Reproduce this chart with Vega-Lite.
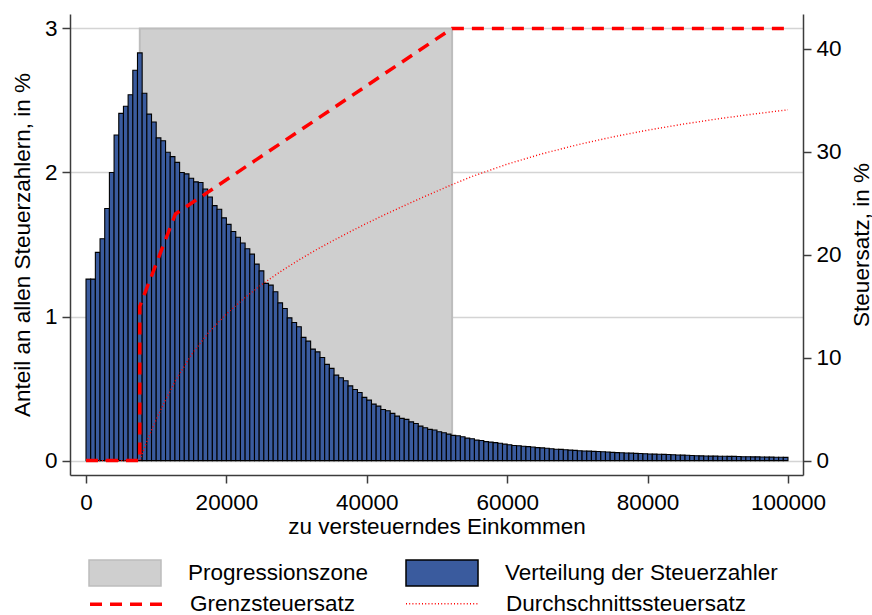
{
  "$schema": "https://vega.github.io/schema/vega-lite/v6.json",
  "width": 733,
  "height": 461,
  "autosize": {"type": "none"},
  "padding": {"left": 70, "top": 14, "right": 69, "bottom": 140},
  "background": "white",
  "config": {
    "font": "Liberation Sans",
    "view": {"stroke": null},
    "axis": {
      "labelFont": "Liberation Sans",
      "titleFont": "Liberation Sans",
      "labelFontSize": 22.5,
      "titleFontSize": 22.5,
      "titleFontWeight": "normal",
      "labelColor": "#000000",
      "titleColor": "#000000",
      "domainColor": "#3c3c3c",
      "domainWidth": 1.5,
      "tickColor": "#3c3c3c",
      "tickWidth": 1.5,
      "tickSize": 8,
      "grid": false,
      "labelFlush": false,
      "labelOverlap": false
    },
    "legend": {
      "title": null,
      "direction": "horizontal",
      "columns": 2,
      "padding": 0,
      "symbolSize": 676,
      "labelFontSize": 22.5,
      "labelFont": "Liberation Sans",
      "labelColor": "#000000",
      "labelLimit": 400,
      "labelOffset": 85,
      "rowPadding": 2
    }
  },
  "datasets": {
    "zone": [{"x": 7664, "x_end": 52151, "oben": 3, "unten": 0}],
    "verteilung": [
      {"x":0,"x_end":667,"s":1.26},{"x":667,"x_end":1333,"s":1.26},{"x":1333,"x_end":2000,"s":1.445},
      {"x":2000,"x_end":2667,"s":1.54},{"x":2667,"x_end":3333,"s":1.75},{"x":3333,"x_end":4000,"s":2.0},
      {"x":4000,"x_end":4667,"s":2.26},{"x":4667,"x_end":5333,"s":2.41},{"x":5333,"x_end":6000,"s":2.46},
      {"x":6000,"x_end":6667,"s":2.54},{"x":6667,"x_end":7333,"s":2.71},{"x":7333,"x_end":8000,"s":2.83},
      {"x":8000,"x_end":8667,"s":2.55},{"x":8667,"x_end":9333,"s":2.405},{"x":9333,"x_end":10000,"s":2.35},
      {"x":10000,"x_end":10667,"s":2.24},{"x":10667,"x_end":11333,"s":2.22},{"x":11333,"x_end":12000,"s":2.14},
      {"x":12000,"x_end":12667,"s":2.11},{"x":12667,"x_end":13333,"s":2.07},{"x":13333,"x_end":14000,"s":2.0},
      {"x":14000,"x_end":14667,"s":1.99},{"x":14667,"x_end":15333,"s":1.96},{"x":15333,"x_end":16000,"s":1.935},
      {"x":16000,"x_end":16667,"s":1.93},{"x":16667,"x_end":17333,"s":1.885},{"x":17333,"x_end":18000,"s":1.83},
      {"x":18000,"x_end":18667,"s":1.77},{"x":18667,"x_end":19333,"s":1.745},{"x":19333,"x_end":20000,"s":1.685},
      {"x":20000,"x_end":20667,"s":1.64},{"x":20667,"x_end":21333,"s":1.59},{"x":21333,"x_end":22000,"s":1.55},
      {"x":22000,"x_end":22667,"s":1.51},{"x":22667,"x_end":23333,"s":1.47},{"x":23333,"x_end":24000,"s":1.433},
      {"x":24000,"x_end":24667,"s":1.364},{"x":24667,"x_end":25333,"s":1.317},{"x":25333,"x_end":26000,"s":1.23},
      {"x":26000,"x_end":26667,"s":1.218},{"x":26667,"x_end":27333,"s":1.172},{"x":27333,"x_end":28000,"s":1.095},
      {"x":28000,"x_end":28667,"s":1.056},{"x":28667,"x_end":29333,"s":0.991},{"x":29333,"x_end":30000,"s":0.959},
      {"x":30000,"x_end":30667,"s":0.929},{"x":30667,"x_end":31333,"s":0.855},{"x":31333,"x_end":32000,"s":0.829},
      {"x":32000,"x_end":32667,"s":0.774},{"x":32667,"x_end":33333,"s":0.755},{"x":33333,"x_end":34000,"s":0.716},
      {"x":34000,"x_end":34667,"s":0.668},{"x":34667,"x_end":35333,"s":0.64},{"x":35333,"x_end":36000,"s":0.593},
      {"x":36000,"x_end":36667,"s":0.575},{"x":36667,"x_end":37333,"s":0.554},{"x":37333,"x_end":38000,"s":0.519},
      {"x":38000,"x_end":38667,"s":0.494},{"x":38667,"x_end":39333,"s":0.473},{"x":39333,"x_end":40000,"s":0.439},
      {"x":40000,"x_end":40667,"s":0.42},{"x":40667,"x_end":41333,"s":0.392},{"x":41333,"x_end":42000,"s":0.378},
      {"x":42000,"x_end":42667,"s":0.355},{"x":42667,"x_end":43333,"s":0.346},{"x":43333,"x_end":44000,"s":0.328},
      {"x":44000,"x_end":44667,"s":0.309},{"x":44667,"x_end":45333,"s":0.293},{"x":45333,"x_end":46000,"s":0.286},
      {"x":46000,"x_end":46667,"s":0.269},{"x":46667,"x_end":47333,"s":0.258},{"x":47333,"x_end":48000,"s":0.239},
      {"x":48000,"x_end":48667,"s":0.228},{"x":48667,"x_end":49333,"s":0.217},{"x":49333,"x_end":50000,"s":0.212},
      {"x":50000,"x_end":50667,"s":0.2},{"x":50667,"x_end":51333,"s":0.193},{"x":51333,"x_end":52000,"s":0.184},
      {"x":52000,"x_end":52667,"s":0.175},{"x":52667,"x_end":53333,"s":0.172},{"x":53333,"x_end":54000,"s":0.165},
      {"x":54000,"x_end":54667,"s":0.156},{"x":54667,"x_end":55333,"s":0.152},{"x":55333,"x_end":56000,"s":0.142},
      {"x":56000,"x_end":56667,"s":0.14},{"x":56667,"x_end":57333,"s":0.132},{"x":57333,"x_end":58000,"s":0.128},
      {"x":58000,"x_end":58667,"s":0.125},{"x":58667,"x_end":59333,"s":0.12},{"x":59333,"x_end":60000,"s":0.114},
      {"x":60000,"x_end":60667,"s":0.11},{"x":60667,"x_end":61333,"s":0.105},{"x":61333,"x_end":62000,"s":0.103},
      {"x":62000,"x_end":62667,"s":0.1},{"x":62667,"x_end":63333,"s":0.097},{"x":63333,"x_end":64000,"s":0.094},
      {"x":64000,"x_end":64667,"s":0.09},{"x":64667,"x_end":65333,"s":0.088},{"x":65333,"x_end":66000,"s":0.086},
      {"x":66000,"x_end":66667,"s":0.082},{"x":66667,"x_end":67333,"s":0.079},{"x":67333,"x_end":68000,"s":0.078},
      {"x":68000,"x_end":68667,"s":0.075},{"x":68667,"x_end":69333,"s":0.073},{"x":69333,"x_end":70000,"s":0.071},
      {"x":70000,"x_end":70667,"s":0.068},{"x":70667,"x_end":71333,"s":0.067},{"x":71333,"x_end":72000,"s":0.066},
      {"x":72000,"x_end":72667,"s":0.064},{"x":72667,"x_end":73333,"s":0.063},{"x":73333,"x_end":74000,"s":0.061},
      {"x":74000,"x_end":74667,"s":0.06},{"x":74667,"x_end":75333,"s":0.057},{"x":75333,"x_end":76000,"s":0.055},
      {"x":76000,"x_end":76667,"s":0.054},{"x":76667,"x_end":77333,"s":0.053},{"x":77333,"x_end":78000,"s":0.052},
      {"x":78000,"x_end":78667,"s":0.05},{"x":78667,"x_end":79333,"s":0.049},{"x":79333,"x_end":80000,"s":0.048},
      {"x":80000,"x_end":80667,"s":0.046},{"x":80667,"x_end":81333,"s":0.045},{"x":81333,"x_end":82000,"s":0.044},
      {"x":82000,"x_end":82667,"s":0.043},{"x":82667,"x_end":83333,"s":0.042},{"x":83333,"x_end":84000,"s":0.041},
      {"x":84000,"x_end":84667,"s":0.039},{"x":84667,"x_end":85333,"s":0.038},{"x":85333,"x_end":86000,"s":0.037},
      {"x":86000,"x_end":86667,"s":0.035},{"x":86667,"x_end":87333,"s":0.034},{"x":87333,"x_end":88000,"s":0.033},
      {"x":88000,"x_end":88667,"s":0.032},{"x":88667,"x_end":89333,"s":0.031},{"x":89333,"x_end":90000,"s":0.031},
      {"x":90000,"x_end":90667,"s":0.03},{"x":90667,"x_end":91333,"s":0.03},{"x":91333,"x_end":92000,"s":0.029},
      {"x":92000,"x_end":92667,"s":0.029},{"x":92667,"x_end":93333,"s":0.028},{"x":93333,"x_end":94000,"s":0.027},
      {"x":94000,"x_end":94667,"s":0.027},{"x":94667,"x_end":95333,"s":0.026},{"x":95333,"x_end":96000,"s":0.026},
      {"x":96000,"x_end":96667,"s":0.025},{"x":96667,"x_end":97333,"s":0.024},{"x":97333,"x_end":98000,"s":0.024},
      {"x":98000,"x_end":98667,"s":0.023},{"x":98667,"x_end":99333,"s":0.023},{"x":99333,"x_end":100000,"s":0.022}
    ],
    "grenz": [
      {"x": 0, "k": 1, "r": 0},
      {"x": 7664, "k": 2, "r": 0},
      {"x": 7664, "k": 3, "r": 15},
      {"x": 12739, "k": 4, "r": 23.97},
      {"x": 52151, "k": 5, "r": 42},
      {"x": 100000, "k": 6, "r": 42}
    ],
    "durch": [
      {"x": 0, "r": 0}, {"x": 7664, "r": 0}, {"x": 8000, "r": 0.64}, {"x": 8500, "r": 1.55},
      {"x": 9000, "r": 2.4}, {"x": 10000, "r": 3.99}, {"x": 11000, "r": 5.44}, {"x": 12739, "r": 7.76},
      {"x": 15000, "r": 10.28}, {"x": 17500, "r": 12.47}, {"x": 20000, "r": 14.25}, {"x": 22500, "r": 15.76},
      {"x": 25000, "r": 17.09}, {"x": 27500, "r": 18.27}, {"x": 30000, "r": 19.36}, {"x": 32500, "r": 20.37},
      {"x": 35000, "r": 21.31}, {"x": 37500, "r": 22.2}, {"x": 40000, "r": 23.06}, {"x": 42500, "r": 23.88},
      {"x": 45000, "r": 24.67}, {"x": 47500, "r": 25.44}, {"x": 50000, "r": 26.19}, {"x": 52151, "r": 26.82},
      {"x": 55000, "r": 27.61}, {"x": 60000, "r": 28.81}, {"x": 65000, "r": 29.82}, {"x": 70000, "r": 30.69},
      {"x": 75000, "r": 31.45}, {"x": 80000, "r": 32.11}, {"x": 85000, "r": 32.69}, {"x": 90000, "r": 33.21},
      {"x": 95000, "r": 33.67}, {"x": 100000, "r": 34.09}
    ]
  },
  "encoding": {
    "x": {
      "field": "x",
      "type": "quantitative",
      "scale": {"domain": [-2280, 102140], "nice": false, "zero": false},
      "axis": {
        "values": [0, 20000, 40000, 60000, 80000, 100000],
        "format": "d",
        "labelPadding": 8,
        "title": "zu versteuerndes Einkommen",
        "titleY": 40
      }
    }
  },
  "layer": [
    {
      "layer": [
        {
          "data": {"name": "zone"},
          "mark": {"type": "rect", "strokeWidth": 2},
          "encoding": {
            "x2": {"field": "x_end"},
            "y": {
              "field": "oben",
              "type": "quantitative",
              "scale": {"domain": [-0.1, 3.1], "nice": false, "zero": false},
              "axis": {
                "values": [0, 1, 2, 3],
                "format": "d",
                "grid": true,
                "gridColor": "#d4d4d4",
                "gridWidth": 1.5,
                "labelPadding": 5,
                "title": "Anteil an allen Steuerzahlern, in %",
                "titleBaseline": "top",
                "titleX": -59
              }
            },
            "y2": {"field": "unten"},
            "fill": {
              "datum": "Progressionszone",
              "type": "nominal",
              "scale": {
                "domain": ["Progressionszone", "Verteilung der Steuerzahler"],
                "range": ["#cfcfcf", "#3a5b9e"]
              },
              "legend": {
                "orient": "none",
                "legendX": 5,
                "legendY": 545,
                "columnPadding": 23,
                "symbolType": "M0,-1H5.54V1H0Z",
                "symbolStrokeWidth": 1.5
              }
            },
            "stroke": {
              "datum": "Progressionszone",
              "type": "nominal",
              "scale": {
                "domain": ["Progressionszone", "Verteilung der Steuerzahler"],
                "range": ["#bdbdbd", "#000000"]
              },
              "legend": {
                "orient": "none",
                "legendX": 5,
                "legendY": 545,
                "columnPadding": 23,
                "symbolType": "M0,-1H5.54V1H0Z",
                "symbolStrokeWidth": 1.5
              }
            }
          }
        },
        {
          "data": {"name": "verteilung"},
          "mark": {"type": "rect", "strokeWidth": 1.1},
          "encoding": {
            "x2": {"field": "x_end"},
            "y": {"field": "s", "type": "quantitative"},
            "y2": {"datum": 0},
            "fill": {"datum": "Verteilung der Steuerzahler", "type": "nominal"},
            "stroke": {"datum": "Verteilung der Steuerzahler", "type": "nominal"}
          }
        }
      ]
    },
    {
      "layer": [
        {
          "data": {"name": "grenz"},
          "mark": {"type": "line", "color": "#ff0000", "strokeCap": "butt"},
          "encoding": {
            "y": {
              "field": "r",
              "type": "quantitative",
              "scale": {"domain": [-1.4, 43.4], "nice": false, "zero": false},
              "axis": {
                "orient": "right",
                "values": [0, 10, 20, 30, 40],
                "labelPadding": 5,
                "title": "Steuersatz, in %",
                "titleAngle": 270,
                "titleBaseline": "top",
                "titleX": 47
              }
            },
            "order": {"field": "k", "type": "quantitative"},
            "strokeDash": {
              "datum": "Grenzsteuersatz",
              "type": "nominal",
              "scale": {
                "domain": ["Grenzsteuersatz", "Durchschnittssteuersatz"],
                "range": [[12, 8], [1, 2.2]]
              },
              "legend": {
                "orient": "none",
                "legendX": 5,
                "legendY": 575,
                "columnPadding": 35,
                "symbolType": "M0,0H5.54",
                "symbolStrokeColor": "#ff0000",
                "symbolFillColor": "transparent"
              }
            },
            "strokeWidth": {
              "datum": "Grenzsteuersatz",
              "type": "ordinal",
              "scale": {
                "type": "point",
                "domain": ["Grenzsteuersatz", "Durchschnittssteuersatz"],
                "range": [3.5, 1.4],
                "padding": 0
              },
              "legend": {
                "orient": "none",
                "legendX": 5,
                "legendY": 575,
                "columnPadding": 35,
                "symbolType": "M0,0H5.54",
                "symbolStrokeColor": "#ff0000",
                "symbolFillColor": "transparent"
              }
            }
          }
        },
        {
          "data": {"name": "durch"},
          "mark": {"type": "line", "color": "#ff0000"},
          "encoding": {
            "y": {"field": "r", "type": "quantitative"},
            "strokeDash": {"datum": "Durchschnittssteuersatz", "type": "nominal"},
            "strokeWidth": {"datum": "Durchschnittssteuersatz", "type": "ordinal"}
          }
        }
      ]
    }
  ],
  "resolve": {"scale": {"y": "independent"}}
}
